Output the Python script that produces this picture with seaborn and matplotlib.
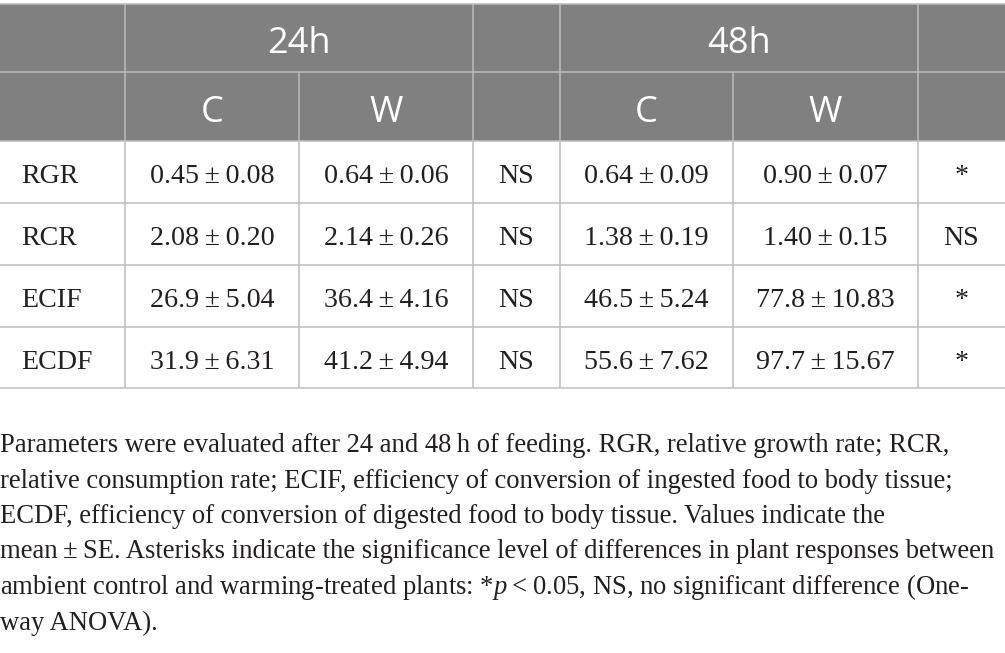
import matplotlib
matplotlib.use("Agg")
import matplotlib.pyplot as plt
import seaborn as sns
from matplotlib.patches import Rectangle

# Datos de la tabla
params = ["RGR", "RCR", "ECIF", "ECDF"]
mean_decimals = [2, 2, 1, 1]
c24_mean = [0.45, 2.08, 26.9, 31.9]
c24_se = [0.08, 0.20, 5.04, 6.31]
w24_mean = [0.64, 2.14, 36.4, 41.2]
w24_se = [0.06, 0.26, 4.16, 4.94]
sig24 = ["NS", "NS", "NS", "NS"]
c48_mean = [0.64, 1.38, 46.5, 55.6]
c48_se = [0.09, 0.19, 5.24, 7.62]
w48_mean = [0.90, 1.40, 77.8, 97.7]
w48_se = [0.07, 0.15, 10.83, 15.67]
sig48 = ["*", "NS", "*", "*"]
times = ["24h", "48h"]
groups = ["C", "W"]

caption_lines = [
    "Parameters were evaluated after 24 and 48\u2009h of feeding. RGR, relative growth rate; RCR,",
    "relative consumption rate; ECIF, efficiency of conversion of ingested food to body tissue;",
    "ECDF, efficiency of conversion of digested food to body tissue. Values indicate the",
    "mean\u2009\u00b1\u2009SE. Asterisks indicate the significance level of differences in plant responses between",
    "ambient control and warming-treated plants: *$p$\u2009<\u20090.05, NS, no significant difference (One-",
    "way ANOVA).",
]

sns.set_theme(style="white")
plt.rcParams["mathtext.fontset"] = "custom"
plt.rcParams["mathtext.it"] = "Liberation Serif:italic"
plt.rcParams["mathtext.rm"] = "Liberation Serif"

serif = ["Liberation Serif", "DejaVu Serif"]
sans = ["Open Sans", "DejaVu Sans"]
txt_c = "#231f20"

# Posiciones en pixeles
col_edges = [0, 125, 299, 473, 560, 733, 918, 1005]
row_edges = [4, 72, 141, 203, 265, 327, 388]
header_bg = "#808080"
line_c = "#bdbdbd"
lw = 1.1

fig = plt.figure(figsize=(10.05, 6.53), dpi=100)
ax = fig.add_axes([0, 0, 1, 1])
ax.set_xlim(0, 1005)
ax.set_ylim(653, 0)
ax.axis("off")

# Cabecera gris
ax.add_patch(Rectangle((0, row_edges[0]), 1005, row_edges[2] - row_edges[0],
                       facecolor=header_bg, edgecolor="none"))

def fmt(m, s, d):
    return f"{m:.{d}f}\u2009\u00b1\u2009{s:.2f}"

# Lineas horizontales
for y in row_edges:
    ax.plot([0, 1005], [y, y], color=line_c, lw=lw, solid_capstyle="butt")

# Lineas verticales
for x in col_edges[1:-1]:
    top = row_edges[1] if x in (299, 733) else row_edges[0]
    ax.plot([x, x], [top, row_edges[-1]], color=line_c, lw=lw, solid_capstyle="butt")

# Texto de cabecera
hy1 = row_edges[0] + 49
hy2 = row_edges[1] + 50
ax.text((col_edges[1] + col_edges[3]) / 2, hy1, times[0], color="white",
        fontsize=26, family=sans, ha="center", va="baseline")
ax.text((col_edges[4] + col_edges[6]) / 2, hy1, times[1], color="white",
        fontsize=26, family=sans, ha="center", va="baseline")
for j, k in enumerate([1, 2, 4, 5]):
    ax.text((col_edges[k] + col_edges[k + 1]) / 2, hy2, groups[j % 2], color="white",
            fontsize=26, family=sans, ha="center", va="baseline")

# Cuerpo de la tabla
for i, p in enumerate(params):
    yb = row_edges[i + 2] + 42
    d = mean_decimals[i]
    cells = [
        fmt(c24_mean[i], c24_se[i], d),
        fmt(w24_mean[i], w24_se[i], d),
        sig24[i],
        fmt(c48_mean[i], c48_se[i], d),
        fmt(w48_mean[i], w48_se[i], d),
        sig48[i],
    ]
    ax.text(21, yb, p, fontsize=20.2, family=serif, ha="left", va="baseline", color=txt_c)
    for k, txt in enumerate(cells):
        xc = (col_edges[k + 1] + col_edges[k + 2]) / 2
        ax.text(xc, yb, txt, fontsize=20.2, family=serif, ha="center", va="baseline",
                color=txt_c)

# Pie de tabla
for n, line in enumerate(caption_lines):
    ax.text(0, 452 + n * 35.5, line, fontsize=19.2, family=serif, ha="left",
            va="baseline", color=txt_c)

fig.savefig("out.png", dpi=100)
